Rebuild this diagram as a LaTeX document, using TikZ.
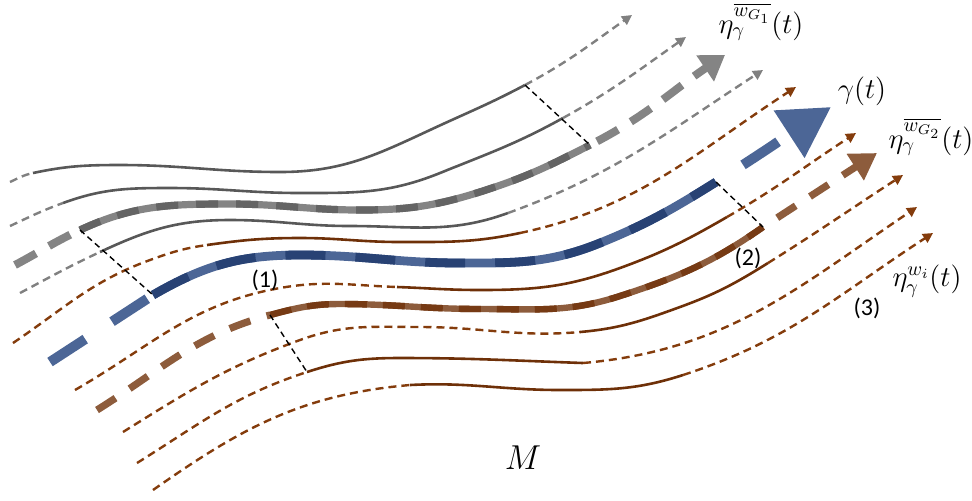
\documentclass[tikz,border=0pt]{standalone}
\usepackage{amsmath,amssymb}
\usepackage{fontspec}
\newfontfamily\numfont{Carlito}
\usetikzlibrary{arrows.meta}

\definecolor{fgray}{RGB}{128,128,128}
\definecolor{fgraydk}{RGB}{88,88,88}
\definecolor{tgray}{RGB}{132,132,132}
\definecolor{tgraydk}{RGB}{100,100,100}
\definecolor{fbrown}{RGB}{132,60,12}
\definecolor{fbrowndk}{RGB}{110,48,8}
\definecolor{tbrown}{RGB}{141,92,60}
\definecolor{tbrowndk}{RGB}{118,58,20}
\definecolor{tblue}{RGB}{76,102,150}
\definecolor{tbluedk}{RGB}{40,66,116}

\begin{document}
\begin{tikzpicture}[x=0.5pt,y=0.5pt,
  thindash/.style={line width=1.2pt,dash pattern=on 4pt off 2.5pt},
  thinsolid/.style={line width=1.3pt},
  smalltip/.style={-{Triangle[length=5pt,width=5pt]}},
  graydash/.style={fgray,thindash},
  graysolid/.style={fgraydk,thinsolid},
  brdash/.style={fbrown,thindash},
  brsolid/.style={fbrowndk,thinsolid},
  gthickdash/.style={tgray,line width=4pt,dash pattern=on 12pt off 7.5pt},
  gthick/.style={draw=tgray,line width=3.6pt,postaction={draw=tgraydk,line width=3.6pt,dash pattern=on 11pt off 9pt}},
  bthickdash/.style={tblue,line width=5pt,dash pattern=on 21pt off 16pt},
  bthick/.style={draw=tblue,line width=4.4pt,postaction={draw=tbluedk,line width=4.4pt,dash pattern=on 20pt off 15pt}},
  rthickdash/.style={tbrown,line width=3.6pt,dash pattern=on 11pt off 8.5pt},
  rthick/.style={draw=tbrown,line width=3.2pt,postaction={draw=tbrowndk,line width=3.2pt,dash pattern=on 11pt off 8pt}},
  perpline/.style={black,line width=0.7pt,dash pattern=on 3pt off 2pt},
  mathlabel/.style={inner sep=0pt,font=\fontsize{14}{16}\selectfont},
  numlabel/.style={inner sep=0pt,font=\numfont\fontsize{12}{14}\selectfont}]
  \useasboundingbox (0,0) rectangle (972,-500);

  % 実線部分の端点
  \coordinate (g1beg) at (33,-173);
  \coordinate (g1end) at (525,-85);
  \coordinate (g2beg) at (63,-203);
  \coordinate (g2end) at (563,-118);
  \coordinate (g3beg) at (80,-230);
  \coordinate (g3end) at (590,-145);
  \coordinate (g4beg) at (100,-252);
  \coordinate (g4end) at (508,-213);
  \coordinate (b1beg) at (207,-245);
  \coordinate (b1end) at (520,-233);
  \coordinate (bluebeg) at (153,-295);
  \coordinate (blueend) at (716,-182);
  \coordinate (b2beg) at (397,-287);
  \coordinate (b2end) at (727,-217);
  \coordinate (brbeg) at (270,-315);
  \coordinate (brend) at (763,-227);
  \coordinate (b3beg) at (580,-332);
  \coordinate (b3end) at (768,-263);
  \coordinate (b4beg) at (307,-372);
  \coordinate (b4end) at (583,-363);
  \coordinate (b5beg) at (410,-385);
  \coordinate (b5end) at (683,-375);

  % 灰色の曲線群
  \draw[graydash] (10,-182) to[out=25,in=192] (g1beg); % 1本目の左端
  \draw[graysolid] (g1beg) to[out=12,in=180] (120,-165) to[out=0,in=180] (280,-172) to[out=0,in=205] (430,-130) to[out=25,in=208] (g1end); % 1本目の実線
  \draw[graydash,smalltip] (g1end) to[out=28,in=215] (632,-15); % 1本目の右端
  \draw[graydash] (10,-226) to[out=25,in=200] (g2beg); % 2本目の左端
  \draw[graysolid] (g2beg) to[out=20,in=180] (170,-188) to[out=0,in=180] (300,-193) to[out=0,in=202] (440,-173) to[out=22,in=209] (g2end); % 2本目の実線
  \draw[graydash,smalltip] (g2end) to[out=29,in=215] (686,-37); % 2本目の右端
  \draw[gthickdash] (15,-265) to[out=28,in=205] (g3beg); % 太線の左端
  \draw[gthick] (g3beg) to[out=25,in=180] (230,-204) to[out=0,in=180] (360,-210) to[out=0,in=198] (486,-190) to[out=18,in=207] (g3end); % 太線の実線
  \draw[gthickdash,dash phase=15.5pt,-{Triangle[length=12pt,width=15pt]}] (g3end) to[out=27,in=214] (725,-55); % 太線の矢印
  \draw[graydash] (20,-293) to[out=28,in=205] (g4beg); % 4本目の左端
  \draw[graysolid] (g4beg) to[out=25,in=180] (230,-220) to[out=0,in=180] (350,-226) to[out=0,in=200] (g4end); % 4本目の実線
  \draw[graydash,smalltip] (g4end) to[out=20,in=213] (763,-70); % 4本目の右端

  % 茶色の曲線群と青い曲線
  \draw[brdash] (13,-343) to[out=34,in=200] (150,-260) to[out=20,in=188] (b1beg); % 茶1の左端
  \draw[brsolid] (b1beg) to[out=8,in=180] (300,-238) to[out=0,in=180] (400,-242) to[out=0,in=192] (b1end); % 茶1の実線
  \draw[brdash,smalltip] (b1end) to[out=12,in=213] (796,-87); % 茶1の右端
  \draw[bthickdash] (50,-362) to[out=33,in=213] (bluebeg); % 青線の左端
  \draw[bthick] (bluebeg) to[out=30,in=180] (300,-255) to[out=0,in=180] (460,-263) to[out=0,in=202] (600,-243) to[out=22,in=212] (blueend); % 青線の実線
  \draw[bthickdash,dash phase=21pt,-{Triangle[length=25pt,width=27pt]}] (blueend) to[out=32,in=213] (831,-107); % 青線の矢印
  \draw[brdash] (75,-390) to[out=30,in=190] (280,-288) to[out=10,in=178] (b2beg); % 茶2の左端
  \draw[brsolid] (b2beg) to[out=-2,in=180] (480,-290) to[out=0,in=200] (620,-268) to[out=20,in=210] (b2end); % 茶2の実線
  \draw[brdash,smalltip] (b2end) to[out=30,in=213] (856,-133); % 茶2の右端
  \draw[rthickdash] (97,-410) to[out=32,in=195] (brbeg); % 茶の太線の左端
  \draw[rthick] (brbeg) to[out=15,in=180] (340,-304) to[out=0,in=180] (480,-309) to[out=0,in=198] (620,-296) to[out=18,in=215] (brend); % 茶の太線の実線
  \draw[rthickdash,dash phase=11pt,-{Triangle[length=13pt,width=15pt]}] (brend) to[out=33,in=213] (877,-153); % 茶の太線の矢印
  \draw[brdash] (123,-432) to[out=32,in=200] (300,-340) to[out=20,in=180] (420,-327) to[out=0,in=185] (b3beg); % 茶3の左端
  \draw[brsolid] (b3beg) to[out=5,in=200] (680,-307) to[out=20,in=212] (b3end); % 茶3の実線
  \draw[brdash,smalltip] (b3end) to[out=32,in=213] (903,-175); % 茶3の右端
  \draw[brdash] (137,-463) to[out=32,in=198] (b4beg); % 茶4の左端
  \draw[brsolid] (b4beg) to[out=18,in=180] (400,-358) to[out=0,in=178] (b4end); % 茶4の実線
  \draw[brdash,smalltip] (b4end) to[out=5,in=214] (917,-207); % 茶4の右端
  \draw[brdash] (153,-490) to[out=35,in=185] (b5beg); % 茶5の左端
  \draw[brsolid] (b5beg) to[out=3,in=180] (560,-390) to[out=0,in=198] (b5end); % 茶5の実線
  \draw[brdash,smalltip] (b5end) to[out=18,in=213] (933,-233); % 茶5の右端

  % 区間を示す点線
  \draw[perpline] (g1end) -- (g3end);
  \draw[perpline] (g3beg) -- (bluebeg);
  \draw[perpline] (brbeg) -- (b4beg);
  \draw[perpline] (blueend) -- (brend);

  % ラベル
  \node[mathlabel] (lblgone) at (761,-22) {$\eta_\gamma^{\overline{w_{G_1}}}(t)$};
  \node[mathlabel] (lblgamma) at (862,-91) {$\gamma(t)$};
  \node[mathlabel] (lblgtwo) at (931,-137) {$\eta_\gamma^{\overline{w_{G_2}}}(t)$};
  \node[mathlabel] (lblwi) at (927,-281) {$\eta_\gamma^{w_i}(t)$};
  \node[numlabel] (lblone) at (265,-280) {(1)};
  \node[numlabel] (lbltwo) at (748,-258) {(2)};
  \node[numlabel] (lblthree) at (867,-308) {(3)};
  \node[inner sep=0pt,font=\fontsize{17}{20}\selectfont] (lblM) at (523,-458) {$M$};
\end{tikzpicture}
\end{document}
